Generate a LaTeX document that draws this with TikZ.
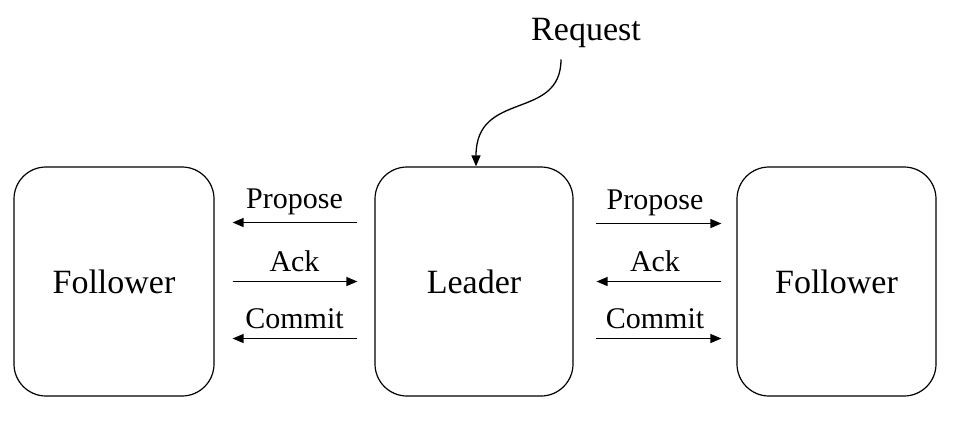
\documentclass[tikz,border=0pt]{standalone}
\usepackage{fontspec}
\setmainfont{Liberation Serif}
\usetikzlibrary{arrows.meta,positioning}

\begin{document}
\begin{tikzpicture}[x=1pt,y=-1pt,
    box/.style={draw,line width=1.2pt,rounded corners=32pt,minimum width=200pt,
      minimum height=229pt,font=\fontsize{34}{40}\selectfont},
    msg/.style={line width=1.3pt,-{Triangle[length=11pt,width=9pt]}},
    lbl/.style={above=6pt,text depth=0pt,font=\fontsize{30}{36}\selectfont}]
    \useasboundingbox (0,0) rectangle (964,424);

    % the three servers
    \node[box] (fl) at (114,281.5) {Follower};
    \node[box,minimum width=198pt] (leader) at (474,281.5) {Leader};
    \node[box,minimum width=199pt] (fr) at (836.5,281.5) {Follower};

    % client request
    \node[font=\fontsize{34}{40}\selectfont] (req) at (586,33) {Request};
    \draw[msg,shorten <=8pt] ([xshift=-25pt]req.south)
      .. controls +(0,70) and +(0,-77) .. ([xshift=2pt]leader.north);

    % leader <-> left follower
    \draw[msg,shorten <=17pt,shorten >=18pt] ([yshift=59pt]leader.west) -- node[lbl,above=10pt] {Propose} ([yshift=59pt]fl.east);
    \draw[msg,shorten <=18pt,shorten >=17pt] (fl.east) -- node[lbl] {Ack} (leader.west);
    \draw[msg,shorten <=17pt,shorten >=18pt] ([yshift=-57pt]leader.west) -- node[lbl] {Commit} ([yshift=-57pt]fl.east);

    % leader <-> right follower
    \draw[msg,shorten <=22pt,shorten >=15pt] ([yshift=58pt]leader.east) -- node[lbl,above=10pt] {Propose} ([yshift=58pt]fr.west);
    \draw[msg,shorten <=15pt,shorten >=23pt] (fr.west) -- node[lbl] {Ack} (leader.east);
    \draw[msg,shorten <=22pt,shorten >=15pt] ([yshift=-57pt]leader.east) -- node[lbl] {Commit} ([yshift=-57pt]fr.west);
  \end{tikzpicture}
\end{document}
